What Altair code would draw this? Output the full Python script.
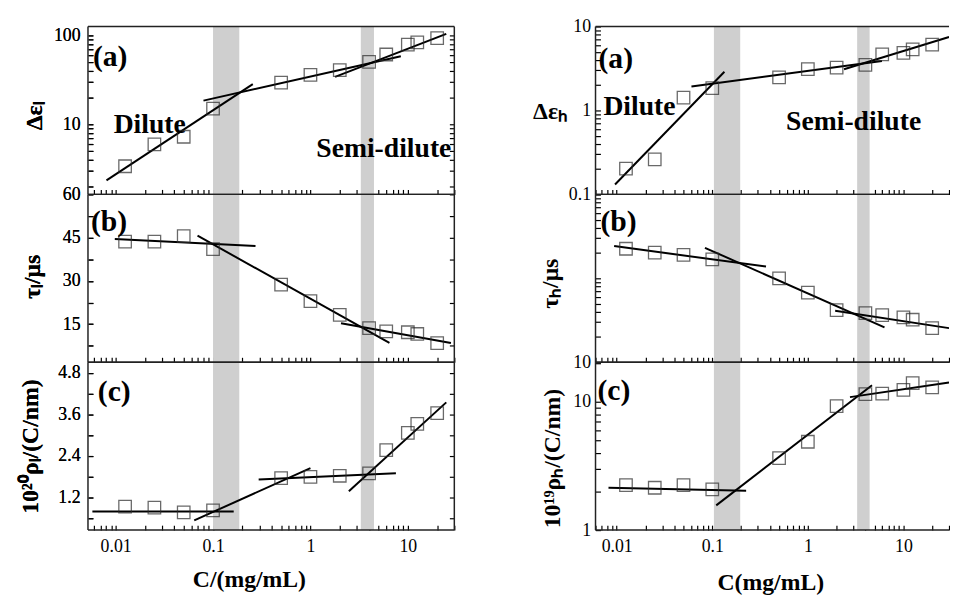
import altair as alt
import pandas as pd

# ---------------- data ----------------
conc = [0.0125, 0.025, 0.05, 0.1, 0.5, 1, 2, 4, 6, 10, 12.5, 20]

# left column (low-frequency)
de_l = [3.4, 6.0, 7.3, 15.1, 29.7, 36.2, 41.1, 50.9, 61.5, 79.4, 84.0, 94.0]
tau_l = [43.6, 43.6, 45.5, 41.0, 28.7, 23.0, 18.2, 13.6, 12.5, 12.2, 11.6, 8.4]
rho_l = [0.93, 0.90, 0.76, 0.82, 1.75, 1.79, 1.82, 1.89, 2.56, 3.06, 3.32, 3.63]

# right column (high-frequency)
de_h = [0.203, 0.261, 1.42, 1.84, 2.48, 3.10, 3.24, 3.49, 4.66, 4.86, 5.33, 6.1]
tau_h = [225, 202, 190, 168, 100, 67.6, 41.7, 38.4, 36.4, 34.2, 32.1, 25.5]
rho_h = [2.24, 2.14, 2.24, 2.08, 3.65, 4.89, 9.27, 11.5, 11.6, 12.4, 14.0, 13.0]

# fitted straight segments (start, end pairs)
fit_de_l_c = [0.00805, 0.256, 0.0798, 8.47, 1.79, 24.8]
fit_de_l_v = [2.36, 28.6, 18.6, 58.9, 34.4, 105]
fit_tau_l_c = [0.0098, 0.273, 0.0693, 6.47, 2.06, 27.7]
fit_tau_l_v = [44.5, 42.1, 45.7, 8.5, 15.35, 8.5]
fit_rho_l_c = [0.00577, 0.163, 0.0641, 1.0, 0.294, 7.54, 2.48, 24.8]
fit_rho_l_v = [0.79, 0.79, 0.53, 2.04, 1.71, 1.89, 1.37, 3.94]

fit_de_h_c = [0.0096, 0.134, 0.0605, 5.96, 2.39, 30]
fit_de_h_v = [0.131, 2.89, 1.93, 3.89, 3.10, 7.5]
fit_tau_h_c = [0.0094, 0.365, 0.0838, 6.34, 1.93, 30]
fit_tau_h_v = [242, 138, 231, 26.0, 41.0, 25.5]
fit_rho_h_c = [0.0082, 0.226, 0.11, 4.69, 2.76, 30]
fit_rho_h_v = [2.14, 2.03, 1.56, 13.5, 10.9, 14.2]

# grey transition bands
band_l_start = [0.1, 3.29]
band_l_end = [0.186, 4.49]
band_h_start = [0.104, 3.28]
band_h_end = [0.196, 4.43]

# tick values / labels
x_ticks = [round(m * 10 ** k, 6) for k in range(-3, 2) for m in range(1, 10)]
x_labels = [(0.01, "0.01"), (0.1, "0.1"), (1, "1"), (10, "10")]

FONT = "Liberation Serif"
H = 170
DUMMY = pd.DataFrame({"k": [0]})
AX = dict(labelFont=FONT, labelFontSize=18, labelColor="black",
          titleFont=FONT, titleFontSize=24, titleFontWeight="bold",
          titleColor="black", tickColor="black", tickWidth=1.2,
          grid=False, domain=False, offset=-5, tickSize=5)


def lab_expr(pairs):
    expr = "''"
    for v, t in reversed(pairs):
        expr = f"datum.value == {v} ? '{t}' : ({expr})"
    return expr


def panel(xdom, width, vals, fit_c, fit_v, b0, b1, ydom, ytype, yticks, ylabels,
          ytitle, tx, ty, tangle, tag, tag_xy, notes, bottom, mirror,
          xtitle=None, xtx=0, xty=0, lpad=8):
    xt = [v for v in x_ticks if xdom[0] <= v <= xdom[1]]
    xs = alt.Scale(type="log", domain=xdom, nice=False)
    if ytype == "linear":
        ys = alt.Scale(type="linear", domain=ydom, nice=False, zero=False)
    else:
        ys = alt.Scale(type="log", domain=ydom, nice=False)

    if bottom:
        xaxis = alt.Axis(orient="bottom", values=xt, labelExpr=lab_expr(x_labels),
                         labelPadding=8, labelFlush=False, labelOverlap=False,
                         title=xtitle, titleX=xtx, titleY=xty, titleAlign="center",
                         titleBaseline="middle", **AX)
    else:
        xaxis = alt.Axis(orient="bottom", values=xt, labels=False, title=None, **AX)

    yaxis = alt.Axis(orient="left", values=yticks, labelExpr=lab_expr(ylabels),
                     labelPadding=lpad, labelFlush=False, labelOverlap=False,
                     title=ytitle, titleX=tx, titleY=ty, titleAngle=tangle,
                     titleAlign="center", titleBaseline="middle", **AX)
    yaxis_r = alt.Axis(orient="right", values=yticks, labels=False, title=None, **AX)

    pts_df = pd.DataFrame({"C": conc, "v": vals})
    fit_df = pd.DataFrame({"C": fit_c, "v": fit_v,
                           "seg": [i // 2 for i in range(len(fit_c))]})
    band_df = pd.DataFrame({"a": b0, "b": b1})

    bands = alt.Chart(band_df).mark_rect(color="#cfcfcf").encode(
        x=alt.X("a:Q", scale=xs, axis=xaxis), x2="b:Q")
    lines = alt.Chart(fit_df).mark_line(color="black", strokeWidth=2, clip=True).encode(
        x=alt.X("C:Q", scale=xs, axis=xaxis),
        y=alt.Y("v:Q", scale=ys, axis=yaxis),
        detail="seg:N")
    pts = alt.Chart(pts_df).mark_point(shape="square", size=160, filled=False,
                                       color="#2a2a2a", strokeWidth=1.3).encode(
        x=alt.X("C:Q", scale=xs, axis=xaxis),
        y=alt.Y("v:Q", scale=ys, axis=yaxis))

    layers = [bands, lines, pts]
    if mirror:
        ghost = alt.Chart(pts_df).mark_point(opacity=0).encode(
            x=alt.X("C:Q", scale=xs, axis=xaxis),
            y=alt.Y("v:Q", scale=ys, axis=yaxis_r))
        layers.append(ghost)
    layers.append(alt.Chart(DUMMY).mark_text(
        text=tag, font=FONT, fontSize=30, fontWeight="bold", align="left",
        baseline="alphabetic", color="black").encode(
        x=alt.value(tag_xy[0]), y=alt.value(tag_xy[1])))
    for txt, nx, ny, al in notes:
        layers.append(alt.Chart(DUMMY).mark_text(
            text=txt, font=FONT, fontSize=28, fontWeight="bold", align=al,
            baseline="alphabetic", color="black").encode(
            x=alt.value(nx), y=alt.value(ny)))
    # frame
    fr = dict(color="#222", strokeWidth=1.5)
    layers.append(alt.Chart(DUMMY).mark_rule(**fr).encode(
        x=alt.value(0), y=alt.value(0), y2=alt.value(H)))
    layers.append(alt.Chart(DUMMY).mark_rule(**fr).encode(
        x=alt.value(0), x2=alt.value(width), y=alt.value(0)))
    layers.append(alt.Chart(DUMMY).mark_rule(**fr).encode(
        x=alt.value(0), x2=alt.value(width), y=alt.value(H)))
    if mirror:
        layers.append(alt.Chart(DUMMY).mark_rule(**fr).encode(
            x=alt.value(width), y=alt.value(0), y2=alt.value(H)))
    return alt.layer(*layers).properties(width=width, height=H)


XL = [0.0052, 30]
WL = 371
XR = [0.006, 30]
WR = 358

log_ticks_l_a = [2, 3, 4, 5, 6, 7, 8, 9, 10, 20, 30, 40, 50, 60, 70, 80, 90, 100]
lin_ticks_l_b = [7.5, 15, 22.5, 30, 37.5, 45, 52.5, 60]
lin_ticks_l_c = [0.6, 1.2, 1.8, 2.4, 3.0, 3.6, 4.2, 4.8]
log_ticks_r_a = [0.1, 0.2, 0.3, 0.4, 0.5, 0.6, 0.7, 0.8, 0.9, 1, 2, 3, 4, 5, 6, 7, 8, 9, 10]
log_ticks_r_b = [10, 20, 30, 40, 50, 60, 70, 80, 90, 100, 200, 300, 400, 500, 600, 700, 800, 900, 1000]
log_ticks_r_c = [1, 2, 3, 4, 5, 6, 7, 8, 9, 10, 20]

la = panel(XL, WL, de_l, fit_de_l_c, fit_de_l_v, band_l_start, band_l_end,
           [1.64, 127], "log", log_ticks_l_a, [(10, "10"), (100, "100")],
           "Δεₗ", -59, 90, 270, "(a)", (5, 40),
           [("Dilute", 26, 108, "left"), ("Semi-dilute", 368, 132, "right")],
           False, True)
lb = panel(XL, WL, tau_l, fit_tau_l_c, fit_tau_l_v, band_l_start, band_l_end,
           [1.8, 60], "linear", lin_ticks_l_b,
           [(15, "15"), (30, "30"), (45, "45"), (60, "60")],
           "τₗ/μs", -61, 83, 270, "(b)", (3, 37), [], False, True)
lc = panel(XL, WL, rho_l, fit_rho_l_c, fit_rho_l_v, band_l_start, band_l_end,
           [0.25, 5.1], "linear", lin_ticks_l_c,
           [(1.2, "1.2"), (2.4, "2.4"), (3.6, "3.6"), (4.8, "4.8")],
           "10²⁰ρₗ/(C/nm)", -63, 85, 270, "(c)", (10, 39), [], True, True,
           xtitle="C/(mg/mL)", xtx=163, xty=55)

ra = panel(XR, WR, de_h, fit_de_h_c, fit_de_h_v, band_h_start, band_h_end,
           [0.1, 10], "log", log_ticks_r_a, [(0.1, "0.1"), (1, "1"), (10, "10")],
           "Δεₕ", -51, 86, 0, "(a)", (3, 42),
           [("Dilute", 8, 90, "left"), ("Semi-dilute", 193, 105, "left")],
           False, False, lpad=5)
rb = panel(XR, WR, tau_h, fit_tau_h_c, fit_tau_h_v, band_h_start, band_h_end,
           [10, 1000], "log", log_ticks_r_b, [(10, "10")],
           "τₕ/μs", -50, 90, 270, "(b)", (5, 37), [], False, False, lpad=5)
rc = panel(XR, WR, rho_h, fit_rho_h_c, fit_rho_h_v, band_h_start, band_h_end,
           [1, 20.4], "log", log_ticks_r_c, [(1, "1"), (10, "10")],
           "10¹⁹ρₕ/(C/nm)", -48, 97, 270, "(c)", (2, 38), [], True, False,
           xtitle="C(mg/mL)", xtx=177, xty=58, lpad=5)

chart = alt.concat(la, ra, lb, rb, lc, rc, columns=2,
                   spacing={"row": 0, "column": 143}, bounds="flush").properties(
    padding={"left": 11, "top": 6, "right": 0, "bottom": 0}
).configure_view(stroke=None)

chart.save("out.html", embed_options={"renderer": "svg", "actions": False})
